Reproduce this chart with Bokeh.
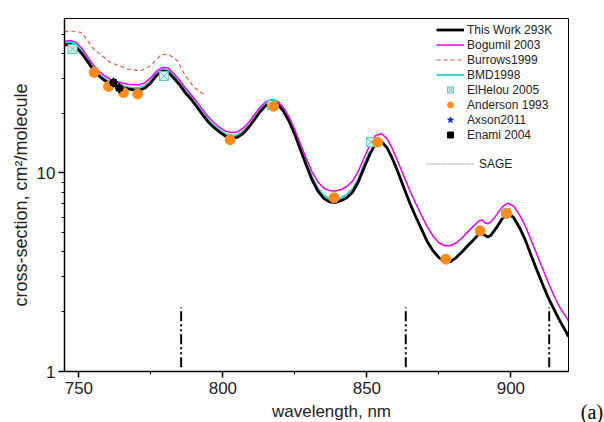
from bokeh.plotting import figure
from bokeh.models import Range1d, FixedTicker, Legend, LegendItem, Label, PrintfTickFormatter
from bokeh.embed import file_html
from bokeh.resources import INLINE

# ---------------- data ----------------
wl_this = [745, 747, 749, 751, 753, 755, 757, 759, 761, 763, 765, 767, 769, 771, 773, 775, 777, 779,
           781, 783, 785, 787, 789, 791, 793, 795, 797, 799, 801, 803, 805, 807, 809, 811, 813, 815,
           817, 819, 821, 823, 825, 827, 829, 831, 833, 835, 837, 839, 841, 843, 845, 847, 849, 851,
           853, 855, 857, 859, 861, 863, 865, 867, 869, 871, 873, 875, 877, 879, 881, 883, 885, 887,
           889, 890, 891, 892, 893, 895, 897, 899, 901, 903, 905, 907, 909, 911, 913, 915, 917, 919, 920]
sig_this = [44.0, 44.5, 43.0, 40.0, 36.5, 33.0, 30.8, 29.2, 28.1, 27.4, 26.9, 26.5, 26.2, 26.1, 26.8, 28.5, 31.0, 32.6,
            32.2, 30.0, 27.8, 25.3, 23.5, 21.5, 19.6, 18.0, 16.9, 16.0, 15.3, 15.0, 15.1, 15.8, 17.0, 18.6, 20.4, 21.9,
            22.6, 22.2, 20.5, 18.2, 15.6, 13.0, 10.9, 9.2, 8.1, 7.45, 7.15, 7.1, 7.25, 7.5, 8.0, 9.0, 10.6, 12.4,
            14.1, 14.4, 13.4, 11.7, 9.9, 8.3, 7.0, 6.0, 5.2, 4.5, 4.05, 3.75, 3.58, 3.58, 3.75, 4.0, 4.3, 4.6,
            4.95, 5.0, 4.85, 4.75, 4.85, 5.3, 5.9, 6.25, 5.95, 5.3, 4.6, 3.85, 3.25, 2.75, 2.35, 2.05, 1.8, 1.6, 1.5]

wl_bog = wl_this
sig_bog = [46.0, 46.5, 45.5, 42.5, 38.5, 35.0, 32.5, 30.8, 29.6, 28.9, 28.4, 28.0, 27.8, 27.8, 28.5, 30.2, 32.6, 34.0,
           33.8, 31.6, 29.3, 26.8, 24.8, 22.8, 20.8, 19.1, 17.9, 16.9, 16.2, 16.0, 16.1, 16.8, 18.0, 19.7, 21.5, 22.9,
           23.4, 23.0, 21.4, 19.1, 16.5, 13.9, 11.8, 10.1, 9.0, 8.4, 8.15, 8.1, 8.25, 8.55, 9.1, 10.2, 11.9, 13.8,
           15.4, 15.8, 14.9, 13.1, 11.2, 9.5, 8.1, 7.0, 6.1, 5.35, 4.8, 4.45, 4.3, 4.3, 4.45, 4.7, 5.05, 5.4,
           5.75, 5.8, 5.6, 5.55, 5.65, 6.15, 6.75, 7.05, 6.8, 6.15, 5.4, 4.6, 3.9, 3.3, 2.8, 2.4, 2.1, 1.9, 1.8]

wl_bmd = [745, 747, 749, 751, 753, 755, 757, 759, 761, 763, 765, 767, 769, 771, 773, 775, 777, 779,
          781, 783, 785, 787, 789, 791, 793, 795, 797, 799, 801, 803, 805, 807, 809, 811, 813, 815,
          817, 819, 821, 823, 825, 827, 829, 831, 833, 835, 837, 839, 841, 843, 845, 847, 849, 851]
sig_bmd = [45.0, 45.5, 44.2, 41.0, 37.4, 33.8, 31.5, 29.8, 28.7, 28.0, 27.5, 27.1, 26.8, 26.8, 27.5, 29.2, 31.7, 33.3,
           32.9, 30.7, 28.5, 25.9, 24.0, 22.0, 20.1, 18.5, 17.3, 16.4, 15.7, 15.4, 15.5, 16.2, 17.4, 19.0, 20.9, 22.4,
           23.0, 22.6, 21.0, 18.6, 16.0, 13.4, 11.2, 9.5, 8.35, 7.7, 7.4, 7.35, 7.5, 7.8, 8.3, 9.3, 11.0, 12.8]

wl_burrows = [745, 747, 751, 755, 761, 767, 771.5, 775, 778.5, 781, 784.3, 786.6, 790, 794]
sig_burrows = [51.4, 52.0, 51.0, 42.2, 36.0, 33.4, 32.7, 34.7, 39.4, 39.7, 36.7, 31.5, 27.0, 24.5]

wl_elhelou = [747.8, 779.5, 817.0, 851.4, 898.3]
sig_elhelou = [42.1, 30.8, 22.0, 14.3, 6.3]

wl_anderson = [755.3, 760.3, 765.5, 770.4, 802.5, 817.6, 838.6, 853.7, 877.4, 889.3, 898.6]
sig_anderson = [32.1, 27.3, 25.4, 25.0, 14.7, 21.7, 7.5, 14.3, 3.68, 5.11, 6.26]

# no Axson2011 point is visible in the chart (legend entry only)
wl_axson = [float("nan")]
sig_axson = [float("nan")]

wl_enami = [762.0, 764.0]
sig_enami = [28.6, 26.8]
err_wl_enami = [1.5, 1.5]
err_sig_enami = [1.6, 1.6]

wl_sage = [785.5, 863.5, 913.3]
sage_low = [1.05, 1.05, 1.05]
sage_high = [2.1, 2.1, 2.1]

x_ticks = [750, 800, 850, 900]
x_minor = [775, 825, 875]
y_ticks = [1, 10]
y_minor = [2, 3, 4, 5, 6, 7, 8, 9, 20, 30, 40, 50]

FONT = "Liberation Sans"

# ---------------- figure ----------------
p = figure(width=604, height=422, x_range=Range1d(745, 920), y_range=Range1d(1, 60),
           y_axis_type="log", output_backend="svg", toolbar_location=None,
           min_border_left=64, min_border_right=36, min_border_top=18, min_border_bottom=51)
p.xgrid.visible = False
p.ygrid.visible = False
p.outline_line_color = "black"
p.outline_line_width = 1
p.background_fill_color = "white"
p.border_fill_color = "white"

p.xaxis.ticker = FixedTicker(ticks=x_ticks, minor_ticks=x_minor)
p.yaxis.ticker = FixedTicker(ticks=y_ticks, minor_ticks=y_minor)
p.yaxis.formatter = PrintfTickFormatter(format="%d")
for ax in (p.xaxis[0], p.yaxis[0]):
    ax.axis_line_width = 1.5
    ax.axis_line_color = "black"
    ax.major_tick_line_width = 1.5
    ax.major_tick_line_color = "black"
    ax.minor_tick_line_color = "black"
    ax.minor_tick_line_width = 1
    ax.major_tick_in = 0
    ax.major_tick_out = 6
    ax.minor_tick_in = 0
    ax.minor_tick_out = 3
    ax.major_label_text_font = FONT
    ax.major_label_text_font_size = "17px"
    ax.major_label_text_color = "#222222"

p.xaxis.major_label_standoff = 4
p.yaxis.major_label_standoff = 3
p.yaxis.axis_label = "cross-section, cm\u00b2/molecule"
p.yaxis.axis_label_text_font = FONT
p.yaxis.axis_label_text_font_size = "18px"
p.yaxis.axis_label_text_font_style = "normal"
p.yaxis.axis_label_text_color = "#222222"
p.yaxis.axis_label_standoff = 3

# ---------------- series ----------------
r_bmd = p.line(wl_bmd, sig_bmd, line_color="#45CFCF", line_width=2.2)
r_bur = p.line(wl_burrows, sig_burrows, line_color="#E8503C", line_width=1.1, line_dash="4 3")
r_this = p.line(wl_this, sig_this, line_color="black", line_width=2.8)
r_bog = p.line(wl_bog, sig_bog, line_color="#F000F0", line_width=1.5)

r_sage = p.segment(x0=wl_sage, y0=sage_low, x1=wl_sage, y1=sage_high, line_color="black",
                   line_width=2, line_dash="10 3 2 3 2 3")
r_sage_leg = p.line(wl_axson, sig_axson, line_color="#999999", line_width=1, line_dash="2 1")

r_el = p.scatter(wl_elhelou, sig_elhelou, marker="square_x", size=9, line_color="#5FC4C4",
                 fill_color="#DDF3F3", line_width=1)
r_and = p.scatter(wl_anderson, sig_anderson, marker="circle", size=10, fill_color="#FF8C1A",
                  line_color="#FF8C1A")
r_ax = p.scatter(wl_axson, sig_axson, marker="star", size=10, fill_color="#1020E0", line_color="#1020E0")

en_x0 = [w - e for w, e in zip(wl_enami, err_wl_enami)]
en_x1 = [w + e for w, e in zip(wl_enami, err_wl_enami)]
en_y0 = [s - e for s, e in zip(sig_enami, err_sig_enami)]
en_y1 = [s + e for s, e in zip(sig_enami, err_sig_enami)]
p.segment(x0=en_x0, y0=sig_enami, x1=en_x1, y1=sig_enami, line_color="black", line_width=2)
p.segment(x0=wl_enami, y0=en_y0, x1=wl_enami, y1=en_y1, line_color="black", line_width=2)
r_en = p.scatter(wl_enami, sig_enami, marker="square", size=6, fill_color="black", line_color="black")

# ---------------- legends ----------------
legend = Legend(items=[
    LegendItem(label="This Work 293K", renderers=[r_this]),
    LegendItem(label="Bogumil 2003", renderers=[r_bog]),
    LegendItem(label="Burrows1999", renderers=[r_bur]),
    LegendItem(label="BMD1998", renderers=[r_bmd]),
    LegendItem(label="ElHelou 2005", renderers=[r_el]),
    LegendItem(label="Anderson 1993", renderers=[r_and]),
    LegendItem(label="Axson2011", renderers=[r_ax]),
    LegendItem(label="Enami 2004", renderers=[r_en]),
], location=(372, 229), glyph_width=28, glyph_height=15, label_height=15, label_standoff=3,
    spacing=0, padding=0, margin=0, label_text_font=FONT, label_text_font_size="12px",
    label_text_color="#222222", border_line_color=None, background_fill_alpha=0)
p.add_layout(legend, "center")

legend2 = Legend(items=[LegendItem(label="SAGE", renderers=[r_sage_leg])],
                 location=(362, 200), glyph_width=48, glyph_height=15, label_height=15, label_standoff=5,
                 spacing=0, padding=0, margin=0, label_text_font=FONT, label_text_font_size="12px",
                 label_text_color="#222222", border_line_color=None, background_fill_alpha=0)
p.add_layout(legend2, "center")

# x-axis title (in the lower side panel, so it is not clipped) and panel tag (right panel)
p.add_layout(Label(x=837.7, y=0.629, x_units="data", y_units="data", text="wavelength, nm",
                   text_align="center", text_baseline="alphabetic", text_font=FONT,
                   text_font_size="17px", text_color="#222222"), "below")
p.add_layout(Label(x=932.0, y=0.622, x_units="data", y_units="data", text="(a)",
                   text_align="right", text_baseline="alphabetic", text_font="Liberation Serif",
                   text_font_size="20px", text_color="black"), "right")

open("out.html", "w").write(file_html(p, INLINE))
